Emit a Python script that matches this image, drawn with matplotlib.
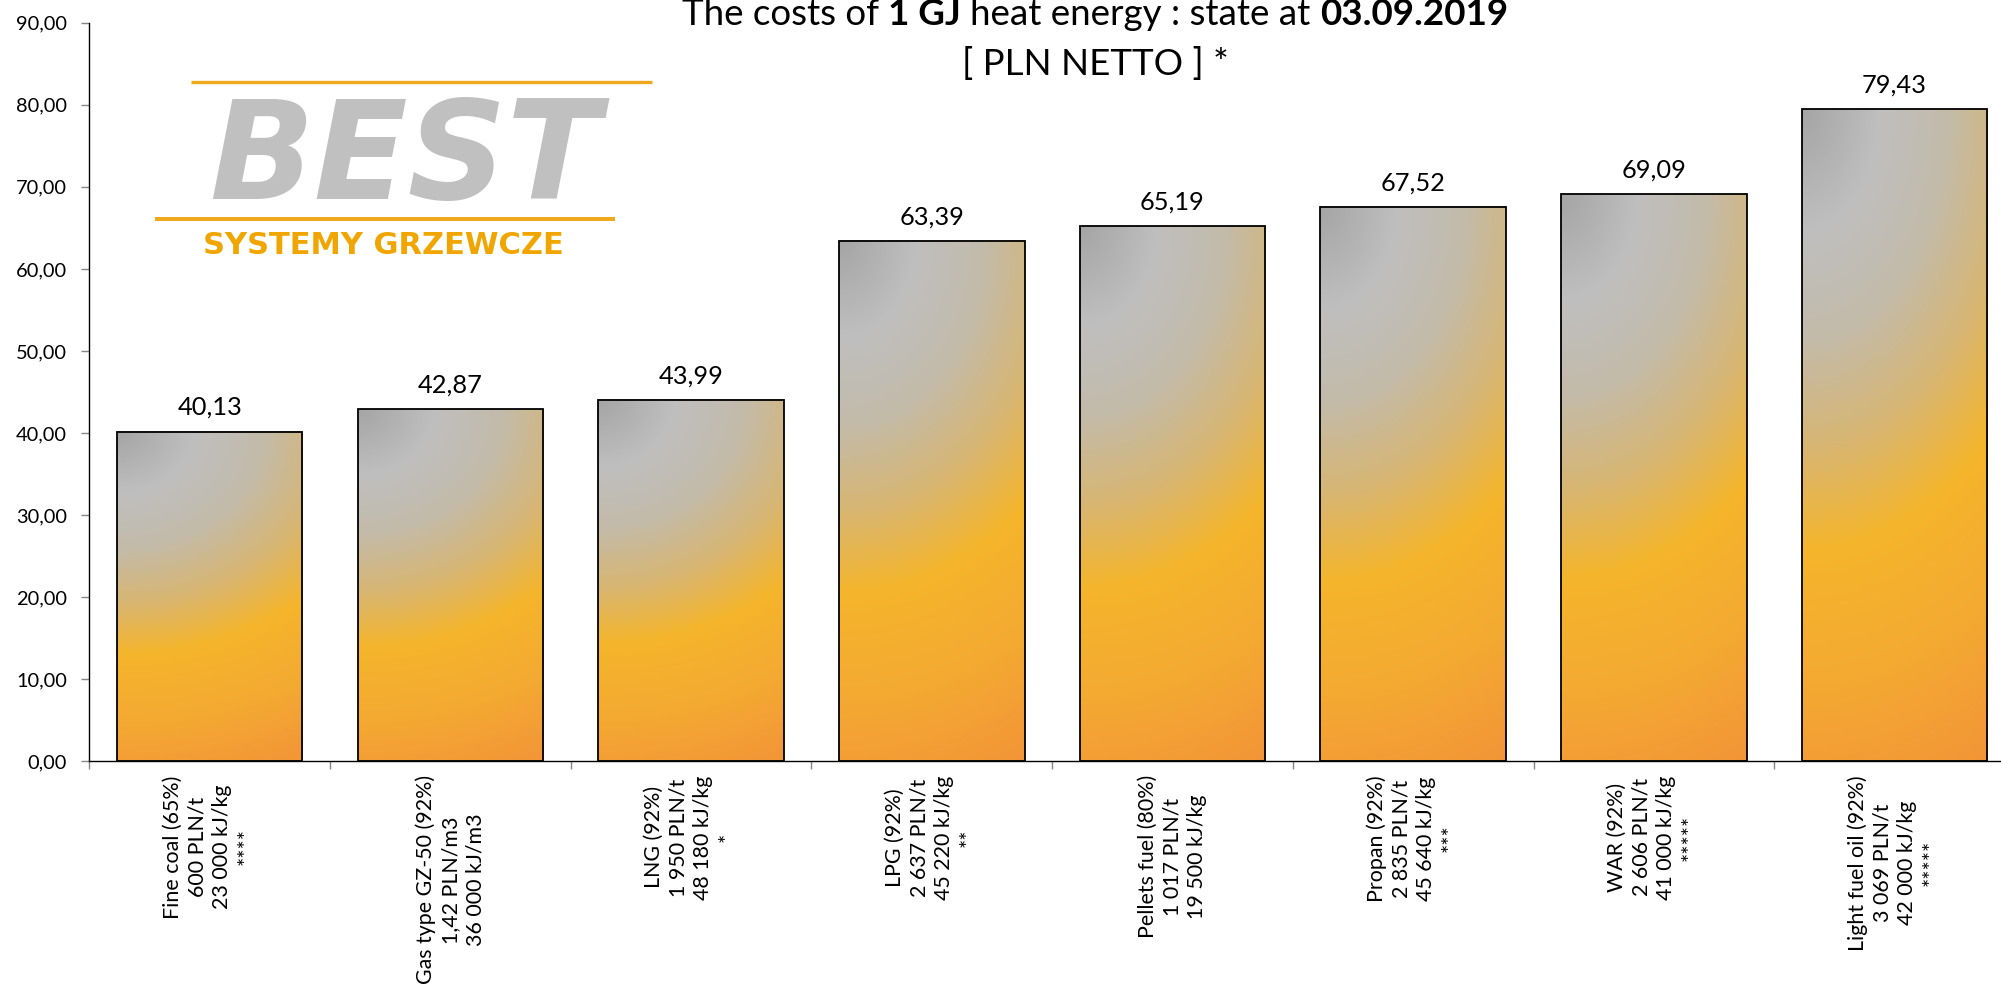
import matplotlib
matplotlib.use("Agg")
import matplotlib.pyplot as plt
import numpy as np
from matplotlib.colors import LinearSegmentedColormap
from matplotlib.ticker import FuncFormatter, FixedLocator

# data
fuels = ["Fine coal (65%)", "Gas type GZ-50 (92%)", "LNG (92%)", "LPG (92%)",
         "Pellets fuel (80%)", "Propan (92%)", "WAR (92%)", "Light fuel oil (92%)"]
prices = ["600 PLN/t", "1,42 PLN/m3", "1 950 PLN/t", "2 637 PLN/t",
          "1 017 PLN/t", "2 835 PLN/t", "2 606 PLN/t", "3 069 PLN/t"]
heat = ["23 000 kJ/kg", "36 000 kJ/m3", "48 180 kJ/kg", "45 220 kJ/kg",
        "19 500 kJ/kg", "45 640 kJ/kg", "41 000 kJ/kg", "42 000 kJ/kg"]
marks = ["****", "", "*", "**", "", "***", "*****", "*****"]
costs = [40.13, 42.87, 43.99, 63.39, 65.19, 67.52, 69.09, 79.43]

W, H = 2001, 984
fig = plt.figure(figsize=(W / 100, H / 100), dpi=100)

def fx(x):
    return x / W

def fy(y):
    return 1 - y / H

ax = fig.add_axes([fx(89.3), fy(761.3), 1925.6 / W, (761.3 - 22.7) / H])

# gradient fill for the bars (radial-ish from the top-left corner)
grad = LinearSegmentedColormap.from_list("bar", [
    (0.00, "#a5a5a5"), (0.17, "#bfbfbf"), (0.32, "#c3bbaa"),
    (0.47, "#d7b674"), (0.62, "#f5b52b"), (0.80, "#f4aa32"), (1.00, "#f29537")])
u = np.linspace(0, 1, 120)
v = np.linspace(0, 1, 240)
uu, vv = np.meshgrid(u, v)
tt = np.sqrt((0.45 * uu) ** 2 + vv ** 2) / np.sqrt(0.45 ** 2 + 1)

bw = 0.771
x = np.arange(len(costs))
for xi, c in zip(x, costs):
    ax.imshow(tt, cmap=grad, vmin=0, vmax=1, origin="upper", aspect="auto",
              extent=[xi - bw / 2, xi + bw / 2, 0, c], interpolation="bilinear", zorder=1)
ax.bar(x, costs, width=bw, facecolor="none", edgecolor="black", linewidth=1.3, zorder=2)

for xi, c in zip(x, costs):
    ax.annotate(f"{c:.2f}".replace(".", ","), (xi, c), xytext=(0, 12.2),
                textcoords="offset points", ha="center", va="baseline",
                fontsize=18.3, family="Lato", color="black")

ax.set_xlim(-0.5, 7.5)
ax.set_ylim(0, 90)
ax.set_yticks(np.arange(0, 91, 10))
ax.yaxis.set_major_formatter(FuncFormatter(lambda val, p: f"{val:.2f}".replace(".", ",")))
ax.tick_params(axis="y", length=5.5, width=1, color="#868686", pad=10.7,
               labelsize=14.4)
for lbl in ax.get_yticklabels():
    lbl.set_family("Lato")

labels = []
for f, p, h, m in zip(fuels, prices, heat, marks):
    lines = [f, p, h] + ([m] if m else [])
    labels.append("\n".join(lines))
ax.set_xticks(x)
ax.set_xticklabels(labels, rotation=90, ha="center", va="top", fontsize=15.4,
                   family="Lato", linespacing=1.28, multialignment="center")
ax.xaxis.set_minor_locator(FixedLocator(np.arange(-0.5, 8, 1)))
ax.tick_params(axis="x", which="major", length=0, pad=10)
ax.tick_params(axis="x", which="minor", length=5.5, width=1, color="#868686")

for s in ["top", "right"]:
    ax.spines[s].set_visible(False)
ax.spines["left"].set_linewidth(1.0)
ax.spines["bottom"].set_linewidth(1.0)

# title, two lines, bold parts drawn as separate pieces
r = fig.canvas.get_renderer()
tsize = 26.5

def twidth(s, weight):
    t = fig.text(0, 0, s, fontsize=tsize, family="Lato", weight=weight)
    w = t.get_window_extent(r).width
    t.remove()
    return w

space = twidth("x x", "normal") - twidth("xx", "normal")
parts = [("The costs of", "normal"), ("1 GJ", "bold"),
         ("heat energy : state at", "normal"), ("03.09.2019", "bold")]
widths = [twidth(s, wt) for s, wt in parts]
total = sum(widths) + space * (len(parts) - 1)
cx = 1095
xpos = cx - total / 2
for (s, wt), w in zip(parts, widths):
    fig.text(fx(xpos), fy(25), s, fontsize=tsize, family="Lato", weight=wt,
             ha="left", va="baseline")
    xpos += w + space
fig.text(fx(cx), fy(75), "[ PLN NETTO ] *", fontsize=tsize, family="Lato",
         ha="center", va="baseline")

# logo
over = fig.add_axes([0, 0, 1, 1], zorder=5)
over.set_xlim(0, W)
over.set_ylim(H, 0)
over.axis("off")
over.plot([191, 652], [81.7, 81.7], color="#f0a81c", lw=2.4, solid_capstyle="butt")
over.plot([155, 615], [219, 219], color="#f0a81c", lw=2.9, solid_capstyle="butt")
over.text(405, 199, "BEST", fontsize=99, family="DejaVu Sans", weight="bold",
          style="italic", color="#c0c0c0", ha="center", va="baseline")
over.text(383, 254, "SYSTEMY GRZEWCZE", fontsize=22, family="DejaVu Sans",
          weight="bold", color="#f0a500", ha="center", va="baseline")

fig.savefig("out.png", dpi=100)
